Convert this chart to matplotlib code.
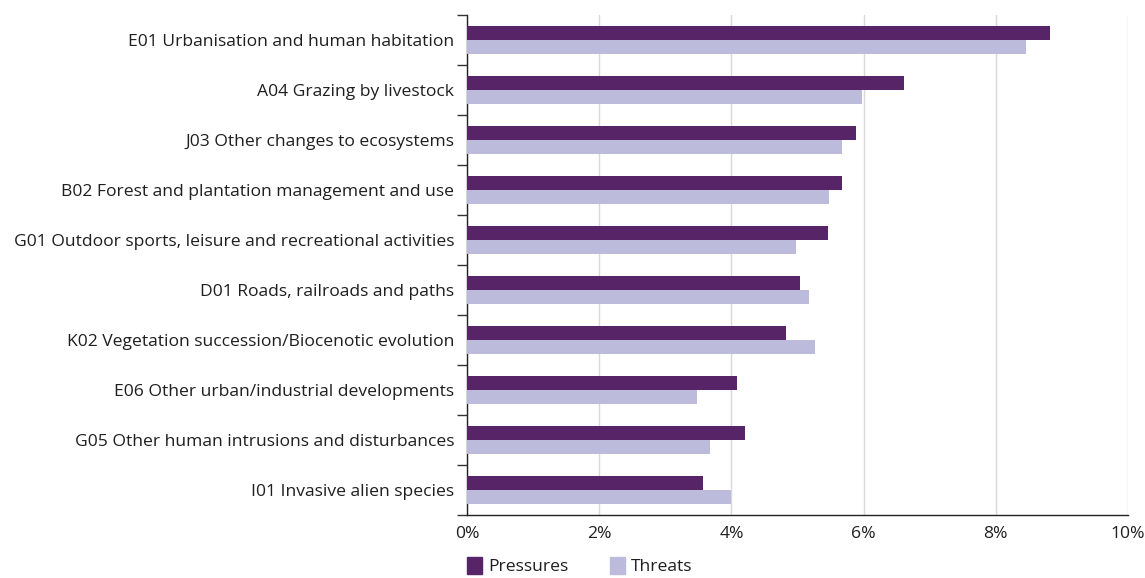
import matplotlib
matplotlib.use("Agg")
import matplotlib.pyplot as plt
from matplotlib.patches import Patch
from matplotlib.ticker import FuncFormatter, MultipleLocator, FixedLocator
import numpy as np

plt.rcParams['font.family'] = ['Open Sans', 'DejaVu Sans']

categories = [
    "E01 Urbanisation and human habitation",
    "A04 Grazing by livestock",
    "J03 Other changes to ecosystems",
    "B02 Forest and plantation management and use",
    "G01 Outdoor sports, leisure and recreational activities",
    "D01 Roads, railroads and paths",
    "K02 Vegetation succession/Biocenotic evolution",
    "E06 Other urban/industrial developments",
    "G05 Other human intrusions and disturbances",
    "I01 Invasive alien species",
]
pressures = [8.82, 6.61, 5.88, 5.67, 5.46, 5.04, 4.83, 4.09, 4.20, 3.57]
threats = [8.46, 5.97, 5.67, 5.48, 4.98, 5.17, 5.27, 3.48, 3.68, 3.99]

c_press = "#562467"
c_threat = "#bdbbdc"
text_col = "#1f1f1f"
fs = 12.6

fig = plt.figure(figsize=(11.45, 5.78), dpi=100)
ax = fig.add_axes([467 / 1145, 1 - 515 / 578, (1128 - 467) / 1145, 500 / 578])

y = np.arange(len(categories))
h = 0.28
ax.barh(y - h / 2, pressures, height=h, color=c_press, label="Pressures", zorder=3)
ax.barh(y + h / 2, threats, height=h, color=c_threat, label="Threats", zorder=3)

ax.set_ylim(len(categories) - 0.5, -0.5)
ax.set_xlim(0, 10)
ax.xaxis.set_major_locator(MultipleLocator(2))
ax.xaxis.set_major_formatter(FuncFormatter(lambda v, p: f"{v:.0f}%"))
ax.grid(axis="x", color="#d9d9d9", linewidth=1, zorder=0)
ax.tick_params(axis="x", length=0, pad=8, labelsize=fs, labelcolor=text_col)

ax.set_yticks(y)
ax.set_yticklabels(categories)
ax.yaxis.set_minor_locator(FixedLocator(np.arange(-0.5, len(categories), 1)))
ax.tick_params(axis="y", which="major", length=0, pad=9, labelsize=fs, labelcolor=text_col)
ax.tick_params(axis="y", which="minor", length=7, width=1, color="#333333")

for s in ["top", "right"]:
    ax.spines[s].set_visible(False)
for s in ["left", "bottom"]:
    ax.spines[s].set_color("#222222")
    ax.spines[s].set_linewidth(1)

handles = [Patch(color=c_press), Patch(color=c_threat)]
fig.legend(handles, ["Pressures", "Threats"], ncol=2, loc="upper left",
           bbox_to_anchor=(465 / 1145, 1 - 555 / 578), frameon=False,
           handlelength=0.85, handleheight=1.1, handletextpad=0.35,
           columnspacing=2.4, fontsize=fs, labelcolor=text_col,
           borderaxespad=0, borderpad=0.1)

fig.savefig("out.png", dpi=100)
